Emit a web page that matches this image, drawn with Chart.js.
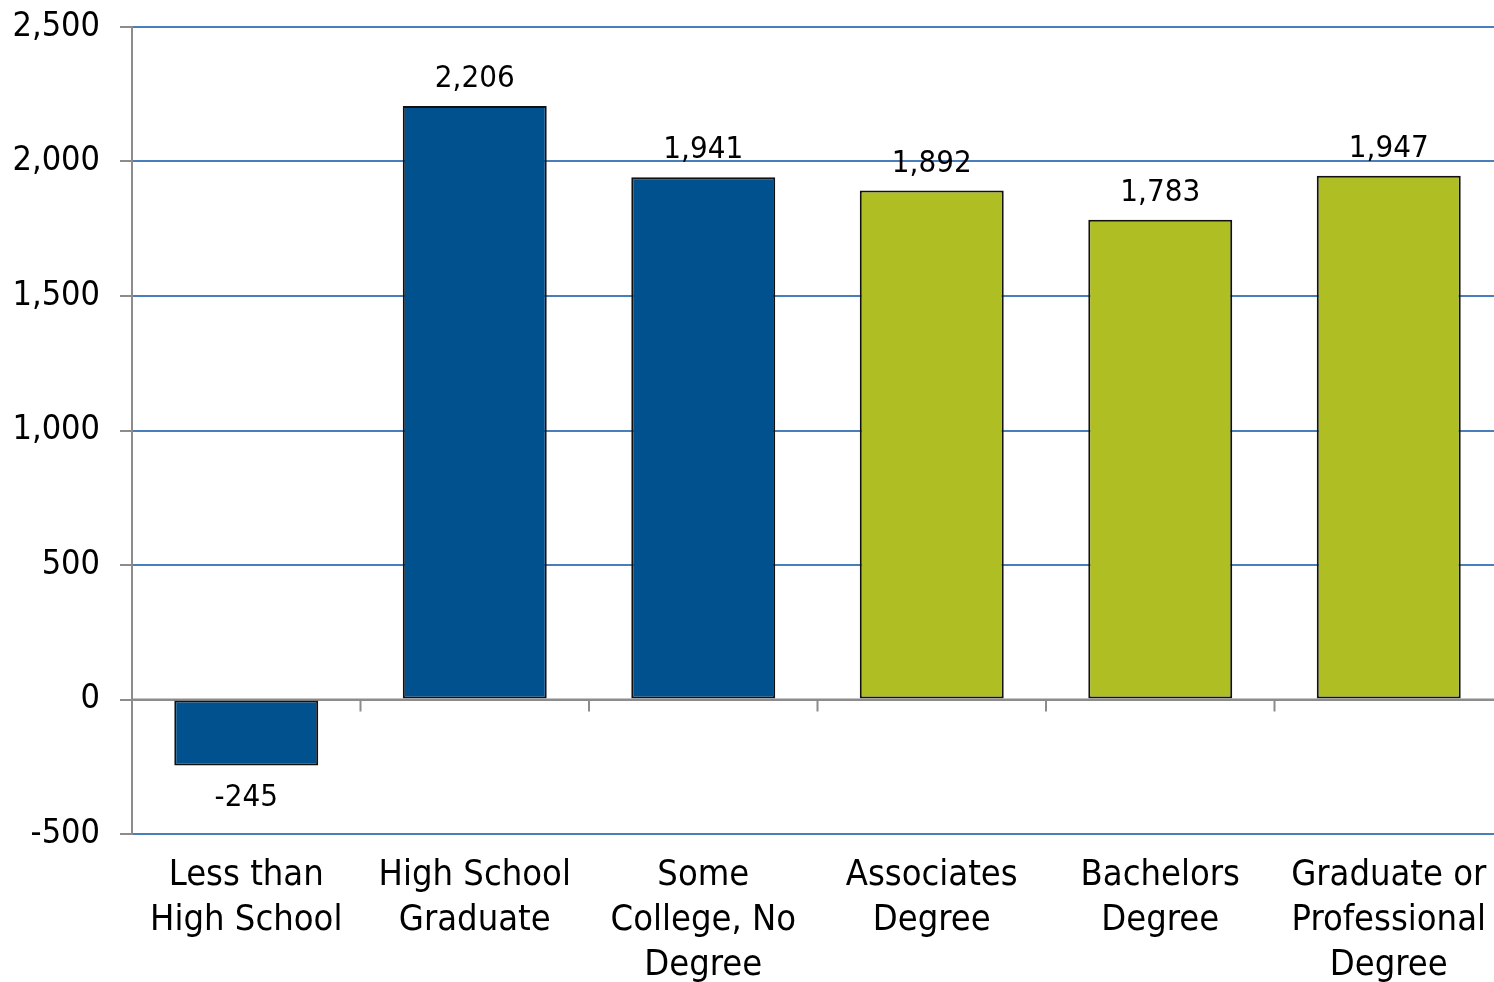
<!DOCTYPE html>
<html>
<head>
<meta charset="utf-8">
<script src="https://cdn.jsdelivr.net/npm/chart.js@4"></script>
<style>
  html, body { margin: 0; padding: 0; background: #fff; overflow: hidden; }
  #wrap { width: 1494px; height: 982px; overflow: hidden; position: relative; }
  #box { width: 1504px; height: 982px; position: absolute; left: 0; top: 0; }
</style>
</head>
<body>
<div id="wrap"><div id="box"><canvas id="eduChart"></canvas></div></div>
<script>
// Education levels and change per level
const categories = [
  ['Less than', 'High School'],
  ['High School', 'Graduate'],
  ['Some', 'College, No', 'Degree'],
  ['Associates', 'Degree'],
  ['Bachelors', 'Degree'],
  ['Graduate or', 'Professional', 'Degree']
];
const values = [-245, 2206, 1941, 1892, 1783, 1947];
const barColors = ['#02518f', '#02518f', '#02518f', '#afbe22', '#afbe22', '#afbe22'];
const yTicks = [-500, 0, 500, 1000, 1500, 2000, 2500];

const FONT = "'DejaVu Sans Condensed', 'DejaVu Sans', Tahoma, sans-serif";

// value labels above (or below, for negatives) each bar
const valueLabels = {
  id: 'valueLabels',
  afterDatasetsDraw(chart) {
    const ctx = chart.ctx;
    const meta = chart.getDatasetMeta(0);
    ctx.save();
    ctx.font = '31px ' + FONT;
    ctx.fillStyle = '#000';
    ctx.textAlign = 'center';
    ctx.textBaseline = 'middle';
    meta.data.forEach((bar, i) => {
      const v = values[i];
      const y = v >= 0 ? bar.y - 27 : bar.y + 33;
      ctx.fillText(v.toLocaleString('en-US'), bar.x, y);
    });
    ctx.restore();
  }
};

// small category separator ticks hanging off the zero line
const zeroTicks = {
  id: 'zeroTicks',
  afterDatasetsDraw(chart) {
    const x = chart.scales.x, y = chart.scales.y;
    const y0 = y.getPixelForValue(0);
    const ctx = chart.ctx;
    ctx.save();
    ctx.strokeStyle = '#8c8c8c';
    ctx.lineWidth = 2;
    ctx.beginPath();
    ctx.moveTo(chart.chartArea.left, y0);
    ctx.lineTo(chart.chartArea.right, y0);
    for (let i = 0; i < categories.length - 1; i++) {
      const bx = (x.getPixelForValue(i) + x.getPixelForValue(i + 1)) / 2;
      ctx.moveTo(bx, y0);
      ctx.lineTo(bx, y0 + 12);
    }
    ctx.stroke();
    ctx.restore();
  }
};

new Chart(document.getElementById('eduChart'), {
  type: 'bar',
  data: {
    labels: categories,
    datasets: [{
      data: values,
      backgroundColor: barColors,
      borderColor: '#111',
      borderWidth: 2,
      borderSkipped: false,
      barPercentage: 0.63,
      categoryPercentage: 1
    }]
  },
  options: {
    responsive: true,
    maintainAspectRatio: false,
    animation: false,
    layout: { padding: { top: 27, right: 1, left: 0, bottom: 0 } },
    plugins: { legend: { display: false }, tooltip: { enabled: false } },
    scales: {
      x: {
        grid: { display: false },
        border: { display: false },
        ticks: {
          color: '#000',
          maxRotation: 0,
          autoSkip: false,
          padding: 11,
          font: { family: FONT, size: 36, lineHeight: 1.25 }
        },
        afterFit(scale) { scale.height = 148; }
      },
      y: {
        min: -500,
        max: 2500,
        afterBuildTicks(scale) { scale.ticks = yTicks.map(v => ({ value: v })); },
        grid: {
          color: c => (c.tick && c.tick.value === 0) ? '#8c8c8c' : '#4a7ebb',
          lineWidth: 2,
          tickLength: 12,
          tickColor: '#8c8c8c'
        },
        border: { color: '#8c8c8c', width: 2 },
        ticks: {
          color: '#000',
          padding: 20,
          font: { family: FONT, size: 34 },
          callback: v => v.toLocaleString('en-US')
        },
        afterFit(scale) {
          scale.width = 132;
          scale.paddingTop = 0;
          scale.paddingBottom = 0;
        }
      }
    }
  },
  plugins: [valueLabels, zeroTicks]
});
</script>
</body>
</html>
